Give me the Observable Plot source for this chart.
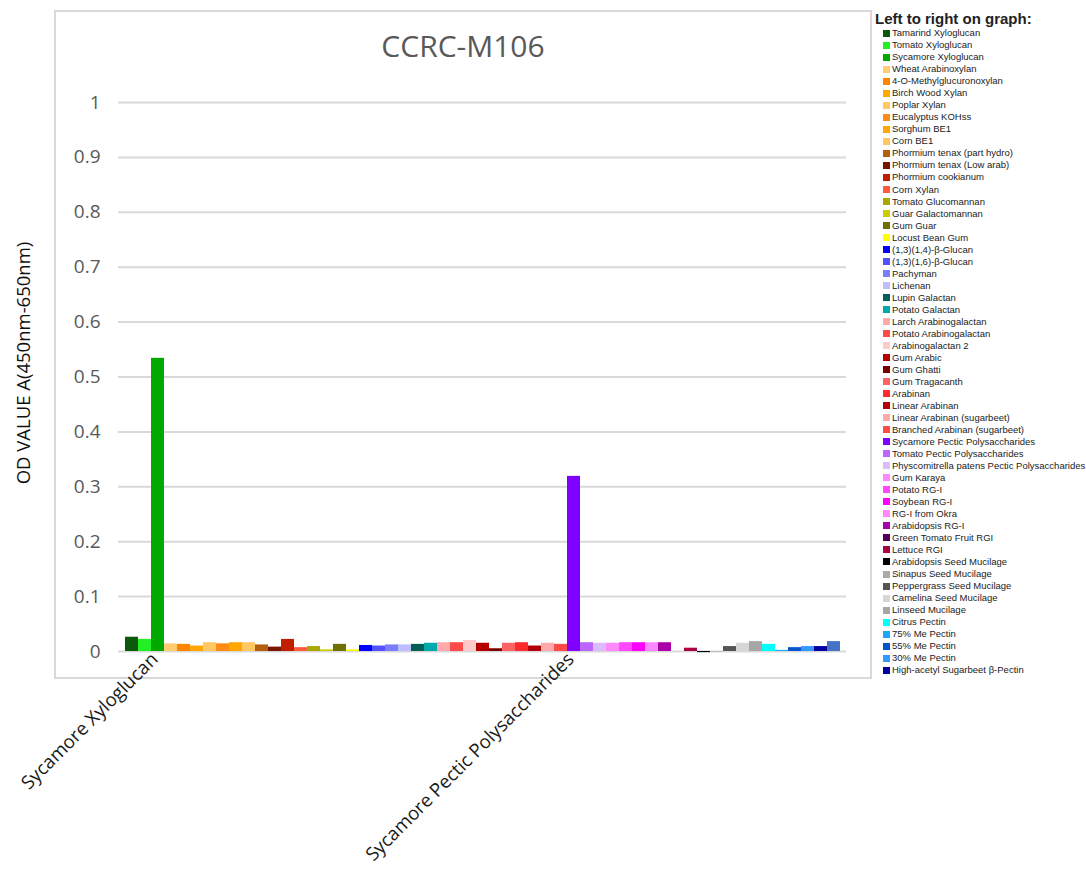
<!DOCTYPE html>
<html>
<head>
<meta charset="utf-8">
<script src="https://cdn.jsdelivr.net/npm/d3@7"></script>
<script src="https://cdn.jsdelivr.net/npm/@observablehq/plot@0.6"></script>
<style>
  html, body { margin: 0; padding: 0; background: #fff; }
  #wrap { position: relative; width: 1086px; height: 879px; overflow: hidden; background: #fff; }
  #frame { position: absolute; left: 54px; top: 10px; width: 814px; height: 665px; border: 2px solid #d9d9d9; box-sizing: content-box; }
  #chart { position: absolute; left: 0; top: 0; }
  #title { position: absolute; left: 263px; width: 400px; top: 26px; text-align: center;
           font-family: "Open Sans", sans-serif; font-size: 30px; color: #595959; line-height: 40px; }
  #legend { position: absolute; left: 875px; top: 10px; font-family: "Liberation Sans", Arial, sans-serif; color: #222; }
  #legend .head { font-weight: bold; font-size: 15px; line-height: 18px; height: 17.3px; }
  #legend .row { position: relative; height: 12.03px; line-height: 12.03px; font-size: 9.5px; white-space: nowrap; }
  #legend .sw { position: absolute; left: 8px; top: 2.5px; width: 7px; height: 7px; }
  #legend .lb { position: absolute; left: 17px; top: 0; }
</style>
</head>
<body>
<div id="wrap">
  <div id="frame"></div>
  <div id="chart"></div>
  <div id="title">CCRC-M106</div>
  <div id="legend"></div>
</div>
<script>
// Polysaccharide samples, in plotting order (left to right)
const samples = [
  "Tamarind Xyloglucan", "Tomato Xyloglucan", "Sycamore Xyloglucan", "Wheat Arabinoxylan",
  "4-O-Methylglucuronoxylan", "Birch Wood Xylan", "Poplar Xylan", "Eucalyptus KOHss",
  "Sorghum BE1", "Corn BE1", "Phormium tenax (part hydro)", "Phormium tenax (Low arab)",
  "Phormium cookianum", "Corn Xylan", "Tomato Glucomannan", "Guar Galactomannan",
  "Gum Guar", "Locust Bean Gum", "(1,3)(1,4)-β-Glucan", "(1,3)(1,6)-β-Glucan",
  "Pachyman", "Lichenan", "Lupin Galactan", "Potato Galactan",
  "Larch Arabinogalactan", "Potato Arabinogalactan", "Arabinogalactan 2", "Gum Arabic",
  "Gum Ghatti", "Gum Tragacanth", "Arabinan", "Linear Arabinan",
  "Linear Arabinan (sugarbeet)", "Branched Arabinan (sugarbeet)", "Sycamore Pectic Polysaccharides", "Tomato Pectic Polysaccharides",
  "Physcomitrella patens Pectic Polysaccharides", "Gum Karaya", "Potato RG-I", "Soybean RG-I",
  "RG-I from Okra", "Arabidopsis RG-I", "Green Tomato Fruit RGI", "Lettuce RGI",
  "Arabidopsis Seed Mucilage", "Sinapus Seed Mucilage", "Peppergrass Seed Mucilage", "Camelina Seed Mucilage",
  "Linseed Mucilage", "Citrus Pectin", "75% Me Pectin", "55% Me Pectin",
  "30% Me Pectin", "High-acetyl Sugarbeet β-Pectin", ""
];

// OD readings, A(450nm-650nm)
const odValues = [
  0.026, 0.022, 0.534, 0.014,
  0.013, 0.010, 0.016, 0.014,
  0.016, 0.016, 0.012, 0.008,
  0.022, 0.007, 0.009, 0.003,
  0.013, 0.003, 0.011, 0.010,
  0.012, 0.012, 0.013, 0.015,
  0.016, 0.016, 0.020, 0.015,
  0.005, 0.015, 0.016, 0.010,
  0.015, 0.013, 0.319, 0.016,
  0.015, 0.015, 0.016, 0.016,
  0.016, 0.016, 0.000, 0.006,
  -0.002, -0.001, 0.009, 0.015,
  0.018, 0.013, 0.002, 0.007,
  0.009, 0.009, 0.018
];

const sampleColors = [
  "#0b5a0b", "#22f022", "#00a800", "#ffcc70",
  "#ff8400", "#ffa600", "#ffc862", "#ff8a14",
  "#ffa600", "#ffc862", "#b35f10", "#7a1600",
  "#c21f00", "#ff5a3c", "#a8a800", "#cccc00",
  "#707000", "#ffff00", "#0000ff", "#5252ff",
  "#7c7cff", "#bdbdff", "#006058", "#00aaaa",
  "#ffaaaa", "#ff4a4a", "#ffcaca", "#b40000",
  "#7a0000", "#ff6464", "#ff2a2a", "#b40008",
  "#ffaaaa", "#ff4a4a", "#7f00ff", "#bb66ff",
  "#ddbbff", "#ff88ff", "#ff48ff", "#ff00ff",
  "#ff88ff", "#aa00aa", "#550055", "#aa0044",
  "#000000", "#aaaaaa", "#555555", "#d6d6d6",
  "#a6a6a6", "#00ffff", "#1aa8ff", "#0055cc",
  "#3399ff", "#0000a0", "#4472c4"
];

// Samples named under the x axis
const axisLabels = ["Sycamore Xyloglucan", "Sycamore Pectic Polysaccharides"];

const yTicks = [0, 0.1, 0.2, 0.3, 0.4, 0.5, 0.6, 0.7, 0.8, 0.9, 1];
const yLabel = "OD VALUE A(450nm-650nm)";
const legendTitle = "Left to right on graph:";

const rows = odValues.map((v, i) => ({i, name: samples[i], value: v, color: sampleColors[i]}));
const labelRows = rows.filter(d => axisLabels.includes(d.name));

const chart = Plot.plot({
  width: 870,
  height: 879,
  marginLeft: 118,
  marginRight: 24,
  marginTop: 102,
  marginBottom: 228,
  style: {fontFamily: "'Open Sans', sans-serif", background: "transparent"},
  x: {type: "band", domain: d3.range(rows.length), padding: 0, axis: null},
  y: {domain: [0, 1], axis: null},
  marks: [
    Plot.gridY(yTicks, {stroke: "#d9d9d9", strokeOpacity: 1, strokeWidth: 2}),
    Plot.axisY(yTicks, {
      tickSize: 0, tickPadding: 18, fontSize: 19, fill: "#595959",
      tickFormat: d => d3.format("~g")(d), label: null
    }),
    Plot.barY(rows, {x: "i", y: "value", fill: "color", inset: 0}),
    Plot.text(labelRows, {
      x: "i", text: "name", frameAnchor: "bottom", rotate: -45, textAnchor: "end",
      dx: 1, dy: 9, fontSize: 18.7, fill: "#1a1a1a"
    }),
    Plot.text([yLabel], {
      text: d => d, frameAnchor: "left", textAnchor: "middle", rotate: -90, dx: -94, dy: -14,
      fontSize: 18.5, fill: "#111"
    })
  ]
});
document.getElementById("chart").appendChild(chart);

// Legend listing samples in plotting order
const legend = document.getElementById("legend");
const head = document.createElement("div");
head.className = "head";
head.textContent = legendTitle;
legend.appendChild(head);
rows.filter(d => d.name).forEach(d => {
  const r = document.createElement("div");
  r.className = "row";
  const sw = document.createElement("span");
  sw.className = "sw";
  sw.style.background = d.color;
  const lb = document.createElement("span");
  lb.className = "lb";
  lb.textContent = d.name;
  r.appendChild(sw);
  r.appendChild(lb);
  legend.appendChild(r);
});
</script>
</body>
</html>
